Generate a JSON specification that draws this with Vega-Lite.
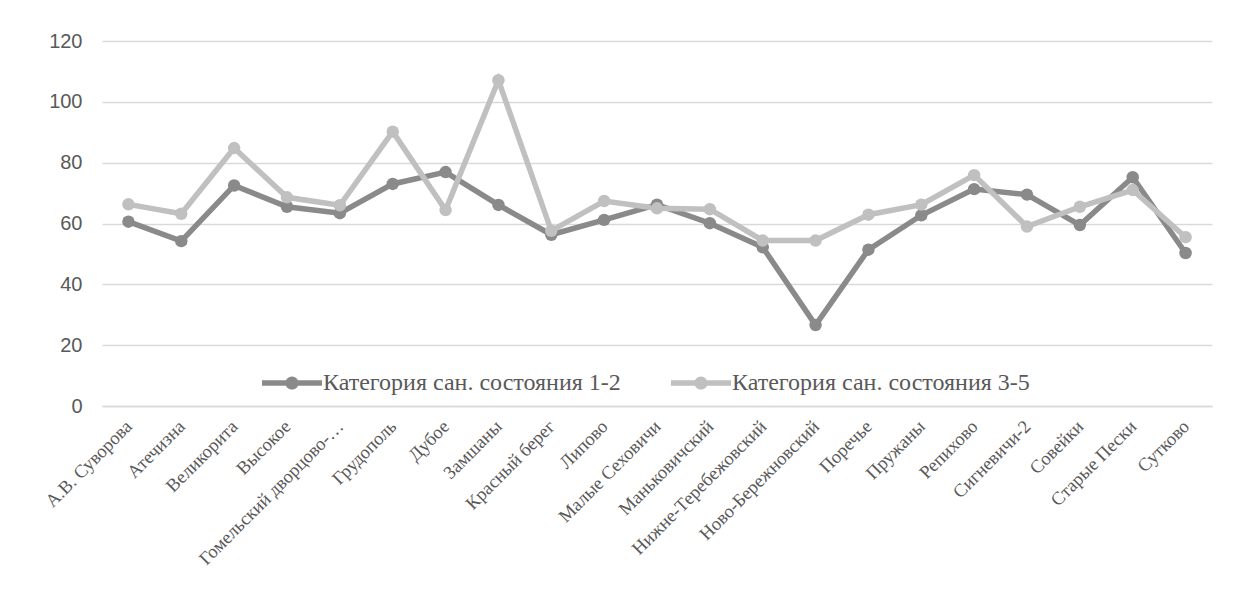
{
  "$schema": "https://vega.github.io/schema/vega-lite/v6.json",
  "width": 1110,
  "height": 365,
  "autosize": {"type": "none"},
  "padding": {"left": 102, "top": 41, "right": 27, "bottom": 204},
  "background": "#ffffff",
  "data": {
    "values": [
      {"place": "А.В. Суворова", "series": "Категория сан. состояния 1-2", "value": 60.6},
      {"place": "Атечизна", "series": "Категория сан. состояния 1-2", "value": 54.2},
      {"place": "Великорита", "series": "Категория сан. состояния 1-2", "value": 72.5},
      {"place": "Высокое", "series": "Категория сан. состояния 1-2", "value": 65.5},
      {"place": "Гомельский дворцово-…", "series": "Категория сан. состояния 1-2", "value": 63.4},
      {"place": "Грудополь", "series": "Категория сан. состояния 1-2", "value": 73.0},
      {"place": "Дубое", "series": "Категория сан. состояния 1-2", "value": 76.9},
      {"place": "Замшаны", "series": "Категория сан. состояния 1-2", "value": 66.1},
      {"place": "Красный берег", "series": "Категория сан. состояния 1-2", "value": 56.3},
      {"place": "Липово", "series": "Категория сан. состояния 1-2", "value": 61.2},
      {"place": "Малые Сеховичи", "series": "Категория сан. состояния 1-2", "value": 66.2},
      {"place": "Маньковичский", "series": "Категория сан. состояния 1-2", "value": 60.1},
      {"place": "Нижне-Теребежовский", "series": "Категория сан. состояния 1-2", "value": 52.2},
      {"place": "Ново-Бережновский", "series": "Категория сан. состояния 1-2", "value": 26.6},
      {"place": "Поречье", "series": "Категория сан. состояния 1-2", "value": 51.4},
      {"place": "Пружаны", "series": "Категория сан. состояния 1-2", "value": 62.7},
      {"place": "Репихово", "series": "Категория сан. состояния 1-2", "value": 71.3},
      {"place": "Сигневичи-2", "series": "Категория сан. состояния 1-2", "value": 69.5},
      {"place": "Совейки", "series": "Категория сан. состояния 1-2", "value": 59.5},
      {"place": "Старые Пески", "series": "Категория сан. состояния 1-2", "value": 75.2},
      {"place": "Сутково", "series": "Категория сан. состояния 1-2", "value": 50.3},
      {"place": "А.В. Суворова", "series": "Категория сан. состояния 3-5", "value": 66.3},
      {"place": "Атечизна", "series": "Категория сан. состояния 3-5", "value": 63.2},
      {"place": "Великорита", "series": "Категория сан. состояния 3-5", "value": 84.8},
      {"place": "Высокое", "series": "Категория сан. состояния 3-5", "value": 68.6},
      {"place": "Гомельский дворцово-…", "series": "Категория сан. состояния 3-5", "value": 66.0},
      {"place": "Грудополь", "series": "Категория сан. состояния 3-5", "value": 90.2},
      {"place": "Дубое", "series": "Категория сан. состояния 3-5", "value": 64.4},
      {"place": "Замшаны", "series": "Категория сан. состояния 3-5", "value": 107.1},
      {"place": "Красный берег", "series": "Категория сан. состояния 3-5", "value": 57.6},
      {"place": "Липово", "series": "Категория сан. состояния 3-5", "value": 67.4},
      {"place": "Малые Сеховичи", "series": "Категория сан. состояния 3-5", "value": 65.0},
      {"place": "Маньковичский", "series": "Категория сан. состояния 3-5", "value": 64.7},
      {"place": "Нижне-Теребежовский", "series": "Категория сан. состояния 3-5", "value": 54.4},
      {"place": "Ново-Бережновский", "series": "Категория сан. состояния 3-5", "value": 54.4},
      {"place": "Поречье", "series": "Категория сан. состояния 3-5", "value": 62.9},
      {"place": "Пружаны", "series": "Категория сан. состояния 3-5", "value": 66.2},
      {"place": "Репихово", "series": "Категория сан. состояния 3-5", "value": 75.9},
      {"place": "Сигневичи-2", "series": "Категория сан. состояния 3-5", "value": 59.0},
      {"place": "Совейки", "series": "Категория сан. состояния 3-5", "value": 65.5},
      {"place": "Старые Пески", "series": "Категория сан. состояния 3-5", "value": 71.0},
      {"place": "Сутково", "series": "Категория сан. состояния 3-5", "value": 55.5}
    ]
  },
  "mark": {
    "type": "line",
    "strokeWidth": 5.5,
    "point": {"size": 155, "filled": true, "opacity": 1}
  },
  "encoding": {
    "x": {
      "field": "place",
      "type": "nominal",
      "sort": null,
      "title": null,
      "axis": {
        "labelAngle": -45,
        "labelAlign": "right",
        "labelBaseline": "middle",
        "labelFont": "Liberation Serif",
        "labelFontSize": 18.5,
        "labelColor": "#595959",
        "labelPadding": 17,
        "labelLimit": 400,
        "labelOverlap": false,
        "ticks": false,
        "domainColor": "#d9d9d9",
        "domainWidth": 1.5,
        "grid": false
      }
    },
    "y": {
      "field": "value",
      "type": "quantitative",
      "title": null,
      "scale": {"domain": [0, 120], "nice": false},
      "axis": {
        "values": [0, 20, 40, 60, 80, 100, 120],
        "labelFont": "Liberation Sans",
        "labelFontSize": 20,
        "labelColor": "#595959",
        "labelPadding": 20,
        "ticks": false,
        "domain": false,
        "gridColor": "#d9d9d9",
        "gridWidth": 1.5
      }
    },
    "color": {
      "field": "series",
      "type": "nominal",
      "title": null,
      "scale": {
        "domain": ["Категория сан. состояния 1-2", "Категория сан. состояния 3-5"],
        "range": ["#8a8a8a", "#c0c0c0"]
      },
      "legend": {
        "orient": "none",
        "direction": "horizontal",
        "legendX": 160,
        "legendY": 312,
        "padding": 0,
        "symbolType": "M-1,-0.09L1,-0.09L1,0.09L-1,0.09Z M-0.22,0A0.22,0.22,0,1,1,0.22,0A0.22,0.22,0,1,1,-0.22,0Z",
        "symbolSize": 3600,
        "symbolStrokeWidth": 0,
        "labelFont": "Liberation Serif",
        "labelFontSize": 24,
        "labelColor": "#595959",
        "labelOffset": 1,
        "labelLimit": 500,
        "columnPadding": 50,
        "encode": {
          "symbols": {
            "update": {
              "fill": {"scale": "color", "field": "value"},
              "stroke": {"value": "transparent"},
              "opacity": {"value": 1}
            }
          }
        }
      }
    }
  },
  "config": {
    "view": {"stroke": null}
  }
}
